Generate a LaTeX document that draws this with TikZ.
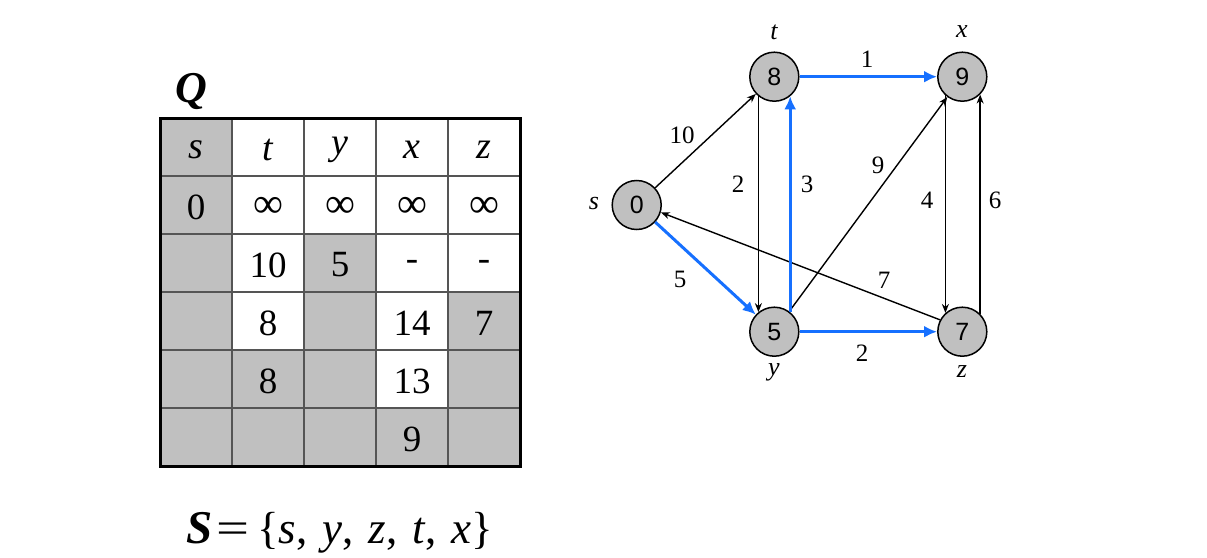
\documentclass[tikz,border=0pt]{standalone}
\usepackage{fontspec}
\setmainfont{Liberation Serif}
\newfontfamily\sansf{Liberation Sans}
\usetikzlibrary{arrows.meta}
\definecolor{cellgray}{RGB}{192,192,192}
\definecolor{pathblue}{RGB}{22,112,255}
\definecolor{gridgray}{RGB}{85,85,85}
\begin{document}
\begin{tikzpicture}[x=1pt,y=-1pt,
  vert/.style={circle,draw=black,line width=1.5pt,fill=cellgray,minimum size=49pt,inner sep=0pt,font=\sansf\fontsize{25}{25}\selectfont},
  vlabel/.style={font=\itshape\fontsize{26}{26}\selectfont},
  wlabel/.style={font=\fontsize{25}{25}\selectfont},
  plainarrow/.style={-{Stealth[length=9pt,width=7pt]},line width=1.4pt},
  bluearrow/.style={-{Latex[length=13pt,width=12pt]},line width=3pt,draw=pathblue},
  cell/.style={font=\fontsize{37}{37}\selectfont},
  cellit/.style={font=\itshape\fontsize{38}{38}\selectfont},
]
\useasboundingbox (0,0) rectangle (1207,557);
\fill[white] (0,0) rectangle (1207,557);

% ---------- table fills ----------
\fill[cellgray] (160,118) rectangle (232,466);
\fill[cellgray] (304,234) rectangle (376,466);
\fill[cellgray] (448,292) rectangle (520,466);
\fill[cellgray] (232,350) rectangle (304,466);
\fill[cellgray] (376,408) rectangle (448,466);
% grid
\foreach \yy in {176,234,292,350,408}
  \draw[gridgray,line width=2pt] (160,\yy) -- (520,\yy);
\foreach \xx in {232,304,376,448}
  \draw[gridgray,line width=2pt] (\xx,118) -- (\xx,466);
\draw[black,line width=3pt] (160,118) rectangle (520,466);

% header
\node[cellit] (hs) at (196,150) {s};
\node[cellit] (ht) at (268,150) {t};
\node[cellit] (hy) at (340,150) {y};
\node[cellit] (hx) at (412,150) {x};
\node[cellit] (hz) at (484,150) {z};
% row 1
\node[cell] (r1s) at (196,207) {0};
\node[cell,font=\fontsize{42}{42}\selectfont] (r1t) at (268,207) {∞};
\node[cell,font=\fontsize{42}{42}\selectfont] (r1y) at (340,207) {∞};
\node[cell,font=\fontsize{42}{42}\selectfont] (r1x) at (412,207) {∞};
\node[cell,font=\fontsize{42}{42}\selectfont] (r1z) at (484,207) {∞};
% row 2
\node[cell] (r2t) at (268,265) {10};
\node[cell] (r2y) at (340,265) {5};
\node[cell] (r2x) at (412,265) {-};
\node[cell] (r2z) at (484,265) {-};
% row 3
\node[cell] (r3t) at (268,323) {8};
\node[cell] (r3x) at (412,323) {14};
\node[cell] (r3z) at (484,323) {7};
% row 4
\node[cell] (r4t) at (268,381) {8};
\node[cell] (r4x) at (412,381) {13};
% row 5
\node[cell] (r5x) at (412,439) {9};

% Q label
\node[anchor=base west,inner sep=0pt,font=\bfseries\itshape\fontsize{44}{44}\selectfont] (qlab) at (175,102) {Q};
% S set
\node[anchor=base west,inner sep=0pt,font=\fontsize{45}{45}\selectfont] (sset) at (186,543)
  {{\bfseries\itshape\fontsize{47}{47}\selectfont S}\hspace{4pt}\scalebox{1.3}[1]{=}\hspace{8pt}\{\textit{s},\hspace{15pt}\textit{y},\hspace{15pt}\textit{z},\hspace{15pt}\textit{t},\hspace{15pt}\textit{x}\}};

% ---------- graph ----------
\node[vert] (s) at (636.7,205) {0};
\node[vert] (t) at (774.3,76.7) {8};
\node[vert] (x) at (962.3,76.7) {9};
\node[vert] (y) at (774.3,331.7) {5};
\node[vert] (z) at (962.3,331.7) {7};

\node[vlabel] (ls) at (594,203) {s};
\node[vlabel] (lt) at (774,32) {t};
\node[vlabel] (lx) at (962,32) {x};
\node[vlabel] (ly) at (774,372) {y};
\node[vlabel] (lz) at (962,372) {z};

\draw[plainarrow] (s) -- (t);
\draw[plainarrow] (y) -- (x);
\draw[plainarrow] (z.152) -- (s.-17);
\draw[plainarrow] (t.-129) -- (y.129);
\draw[plainarrow] (x.-132) -- (z.132);
\draw[plainarrow] (z.45) -- (x.-45);
\draw[bluearrow] (s) -- (y);
\draw[bluearrow] (y.51) -- (t.-51);
\draw[bluearrow] (t) -- (x);
\draw[bluearrow] (y) -- (z);

\node[wlabel] (w10) at (682,135) {10};
\node[wlabel] (w5) at (680,279) {5};
\node[wlabel] (w2a) at (738,184) {2};
\node[wlabel] (w3) at (807,184) {3};
\node[wlabel] (w1) at (867,59) {1};
\node[wlabel] (w9) at (878,165) {9};
\node[wlabel] (w4) at (927,200) {4};
\node[wlabel] (w6) at (995,200) {6};
\node[wlabel] (w2b) at (862,353) {2};
\node[wlabel] (w7) at (884,280) {7};
\end{tikzpicture}
\end{document}
